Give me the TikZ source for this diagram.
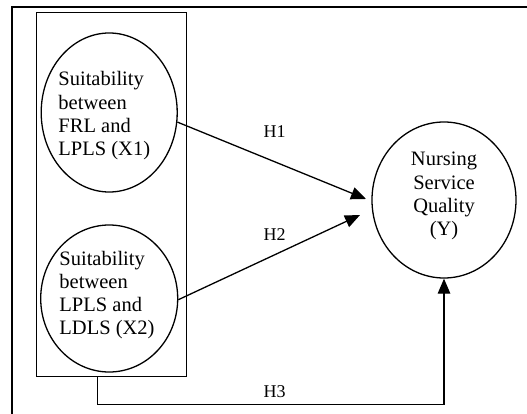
\documentclass[tikz,border=0pt]{standalone}
\usepackage{fontspec}
\setmainfont{Liberation Serif}
\usetikzlibrary{arrows.meta,shapes.geometric}
\begin{document}
\begin{tikzpicture}[x=1pt,y=-1pt,
  line width=1.3pt,
  ell/.style={draw,ellipse,inner sep=0pt},
  lbl/.style={inner sep=0pt,font=\fontsize{20.5}{23.3}\selectfont},
  hl/.style={inner sep=0pt,anchor=base west,font=\fontsize{18}{20}\selectfont},
  arr/.style={-{Triangle[length=15pt,width=12.5pt]}}]
\useasboundingbox (0,0) rectangle (527,414);
\draw (12,416) -- (12,7) -- (529,7);
\node[draw,inner sep=0pt,minimum width=150pt,minimum height=364.4pt] (box) at (111.7,194.5) {};
\node[ell,minimum width=136pt,minimum height=159pt] (e1) at (109.2,112.5) {};
\node[ell,minimum width=137pt,minimum height=147pt] (e2) at (109.2,298.5) {};
\node[ell,minimum width=144pt,minimum height=156pt] (ey) at (444,200) {};
\node[lbl,anchor=base west] (t1) at (57.8,86) {\begin{tabular}[t]{@{}l@{}}Suitability\\between\\FRL and\\LPLS (X1)\end{tabular}};
\node[lbl,anchor=base west] (t2) at (58.8,265) {\begin{tabular}[t]{@{}l@{}}Suitability\\between\\LPLS and\\LDLS (X2)\end{tabular}};
\node[lbl,anchor=base] (ty) at (444,166) {\begin{tabular}[t]{@{}c@{}}Nursing\\Service\\Quality\\(Y)\end{tabular}};
\coordinate (h1e) at (366,199);
\coordinate (h2e) at (360,215);
\coordinate (h3s) at (97.7,376.7);
\coordinate (h3c) at (97.7,404.7);
\draw[arr] (e1.-8) -- (h1e);
\draw[arr] (e2.-1) -- (h2e);
\draw[arr] (h3s) -- (h3c) -| (ey.south);
\node[hl] (l1) at (263,138) {H1};
\node[hl] (l2) at (263,240) {H2};
\node[hl] (l3) at (263,397) {H3};
\end{tikzpicture}
\end{document}
